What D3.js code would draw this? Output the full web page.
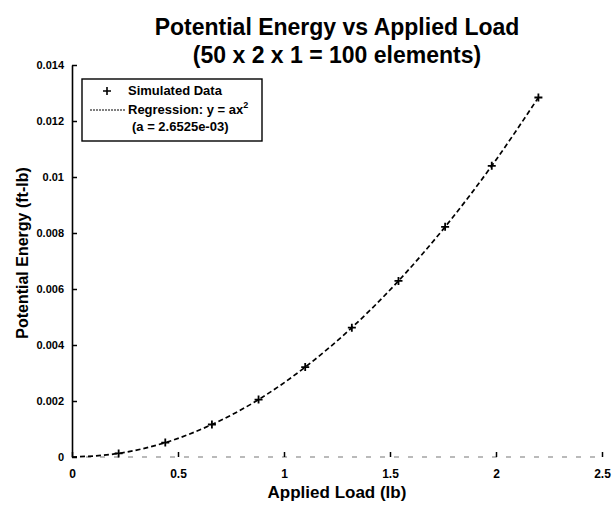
<!DOCTYPE html>
<html>
<head>
<meta charset="utf-8">
<script src="https://cdn.jsdelivr.net/npm/d3@7"></script>
<style>
  body { margin: 0; background: #fff; }
  text { font-family: "Liberation Sans", Arial, sans-serif; }
</style>
</head>
<body>
<div id="plot-pe"></div>
<script>
// simulated data
const loadLb = [0, 0.22, 0.44, 0.66, 0.88, 1.10, 1.32, 1.54, 1.76, 1.98, 2.20];
const energyFtLb = [0, 0.000128, 0.000514, 0.00116, 0.00205, 0.00321, 0.00462, 0.00629, 0.00822, 0.01040, 0.01284];
const xTicks = [0, 0.5, 1, 1.5, 2, 2.5];
const yTicks = [0, 0.002, 0.004, 0.006, 0.008, 0.01, 0.012, 0.014];
const titleLines = ["Potential Energy vs Applied Load", "(50 x 2 x 1 = 100 elements)"];

const W = 614, H = 508;
const margin = { top: 65, bottom: 51, right: 12, left: 72 };
const width = W - margin.left - margin.right;
const height = H - margin.top - margin.bottom;

const x = d3.scaleLinear().domain([0, 2.5]).range([0, width]);
const y = d3.scaleLinear().domain([0, 0.014]).range([height, 0]);

const svg = d3.select("#plot-pe")
  .append("svg")
    .attr("width", W)
    .attr("height", H);

const g = svg.append("g")
    .attr("transform", `translate(${margin.left},${margin.top})`);

// title
svg.append("g").selectAll("text")
  .data(titleLines)
  .join("text")
    .attr("x", margin.left + width / 2)
    .attr("y", (d, i) => 35 + i * 28)
    .attr("text-anchor", "middle")
    .style("font-size", "23px")
    .style("font-weight", "bold")
    .text(d => d);

// bottom axis (faint, broken in the scan)
g.append("line")
  .attr("x1", 0).attr("x2", width)
  .attr("y1", height).attr("y2", height)
  .attr("stroke", "#777")
  .attr("stroke-width", 1.2)
  .attr("stroke-dasharray", "5,9");

const xAxis = g.append("g")
  .attr("transform", `translate(0,${height})`)
  .call(d3.axisBottom(x).tickValues(xTicks).tickSize(-5).tickPadding(12)
        .tickFormat(d3.format("")));
xAxis.select(".domain").remove();
xAxis.selectAll("line").attr("stroke-width", 1.5);
xAxis.selectAll("text")
  .style("font-size", "12px")
  .style("font-weight", "bold")
  .attr("font-family", null);

const yAxis = g.append("g")
  .call(d3.axisLeft(y).tickValues(yTicks).tickSize(-5).tickSizeOuter(0).tickPadding(8)
        .tickFormat(d3.format("")));
yAxis.select(".domain").attr("stroke-width", 1.6);
yAxis.selectAll("line").attr("stroke-width", 1.5);
yAxis.selectAll("text")
  .style("font-size", "11px")
  .style("font-weight", "bold")
  .attr("font-family", null);

// axis labels
svg.append("text")
  .attr("x", margin.left + width / 2)
  .attr("y", 498)
  .attr("text-anchor", "middle")
  .style("font-size", "17px")
  .style("font-weight", "bold")
  .text("Applied Load (lb)");

svg.append("text")
  .attr("transform", `translate(28,${margin.top + height / 2 - 8}) rotate(-90)`)
  .attr("text-anchor", "middle")
  .style("font-size", "16px")
  .style("font-weight", "bold")
  .text("Potential Energy (ft-lb)");

// regression curve through the points
const pts = loadLb.map((v, i) => [v, energyFtLb[i]]);
const line = d3.line()
  .x(d => x(d[0]))
  .y(d => y(d[1]))
  .curve(d3.curveMonotoneX);

g.append("path")
  .datum(pts)
  .attr("fill", "none")
  .attr("stroke", "#000")
  .attr("stroke-width", 1.7)
  .attr("stroke-dasharray", "5,3")
  .attr("d", line);

// simulated data markers
g.selectAll(".pt")
  .data(pts.slice(1))
  .join("path")
    .attr("class", "pt")
    .attr("transform", d => `translate(${x(d[0])},${y(d[1])})`)
    .attr("d", "M-4,0H4M0,-4V4")
    .attr("stroke", "#000")
    .attr("stroke-width", 1.8);

// legend
const lg = svg.append("g").attr("transform", "translate(82,79)");
lg.append("rect")
  .attr("width", 180).attr("height", 62)
  .attr("fill", "#fff")
  .attr("stroke", "#000")
  .attr("stroke-width", 1.4);
lg.append("path")
  .attr("d", "M21,12H29M25,8V16")
  .attr("stroke", "#000")
  .attr("stroke-width", 1.6);
lg.append("text")
  .attr("x", 46).attr("y", 16)
  .style("font-size", "13px").style("font-weight", "bold")
  .text("Simulated Data");
lg.append("line")
  .attr("x1", 8).attr("x2", 43).attr("y1", 31).attr("y2", 31)
  .attr("stroke", "#000").attr("stroke-width", 1)
  .attr("stroke-dasharray", "2,1");
const reg = lg.append("text")
  .attr("x", 46).attr("y", 35)
  .style("font-size", "13px").style("font-weight", "bold");
reg.append("tspan").text("Regression: y = ax");
reg.append("tspan").attr("dy", -6).style("font-size", "9px").text("2");
lg.append("text")
  .attr("x", 50).attr("y", 52)
  .style("font-size", "13px").style("font-weight", "bold")
  .text("(a = 2.6525e-03)");
</script>
</body>
</html>
